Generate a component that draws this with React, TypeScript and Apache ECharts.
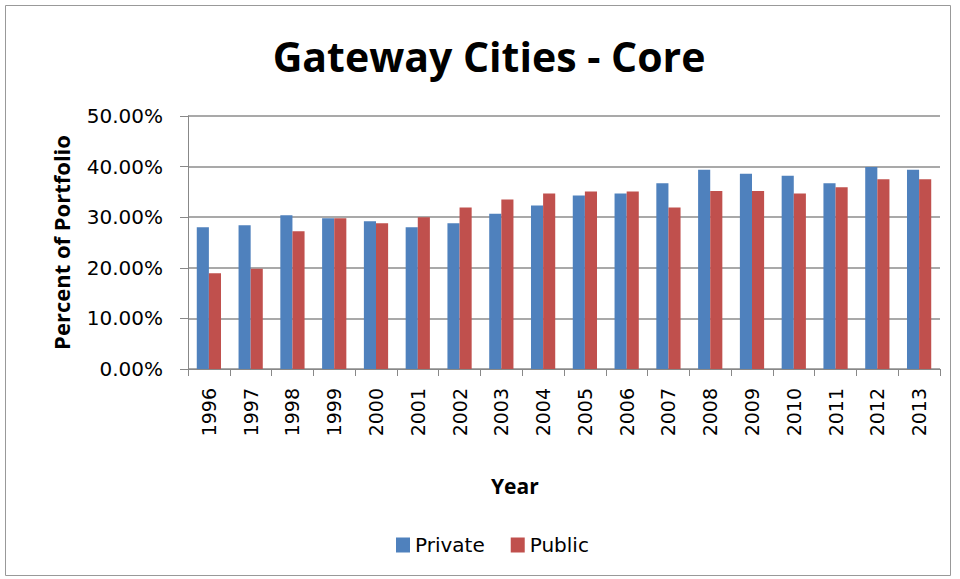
import React, { useEffect, useRef } from "react";
import * as echarts from "echarts";

const years = ["1996","1997","1998","1999","2000","2001","2002","2003","2004","2005","2006","2007","2008","2009","2010","2011","2012","2013"];
const privateVals = [28.0, 28.4, 30.4, 29.8, 29.2, 28.0, 28.8, 30.7, 32.3, 34.3, 34.7, 36.7, 39.4, 38.6, 38.2, 36.7, 39.9, 39.4];
const publicVals = [18.9, 19.8, 27.2, 29.8, 28.8, 30.0, 31.9, 33.5, 34.7, 35.1, 35.1, 31.9, 35.2, 35.2, 34.7, 35.9, 37.5, 37.5];

const BOLD = "'Open Sans', 'DejaVu Sans', sans-serif";
const REG = "'DejaVu Sans', sans-serif";

export default function App() {
  const ref = useRef<HTMLDivElement>(null);
  useEffect(() => {
    if (!ref.current) return;
    const chart = echarts.init(ref.current, null, { renderer: "svg" });
    chart.setOption({
      animation: false,
      backgroundColor: "#ffffff",
      title: {
        text: "Gateway Cities - Core",
        left: 484,
        top: 30,
        textAlign: "center",
        textStyle: { fontFamily: BOLD, fontSize: 41, fontWeight: "bold", color: "#000" },
      },
      graphic: [
        {
          type: "rect",
          shape: { x: 5.5, y: 5.5, width: 945, height: 570 },
          style: { fill: "none", stroke: "#999", lineWidth: 1 },
          silent: true,
        },
        {
          type: "text",
          left: 491,
          top: 475,
          style: { text: "Year", fontFamily: BOLD, fontSize: 21, fontWeight: "bold", fill: "#000" },
          silent: true,
        },
      ],
      legend: {
        data: ["Private", "Public"],
        top: 530,
        left: 391,
        itemWidth: 14,
        itemHeight: 15,
        itemGap: 26,
        icon: "rect",
        textStyle: { fontFamily: REG, fontSize: 20, color: "#000" },
      },
      grid: { left: 188, right: 20, top: 116, bottom: 210, containLabel: false },
      xAxis: {
        type: "category",
        data: years,
        axisLine: { lineStyle: { color: "#888", width: 1 } },
        axisTick: { show: true, alignWithLabel: false, length: 7, lineStyle: { color: "#888" } },
        axisLabel: { rotate: 90, fontFamily: REG, fontSize: 19, color: "#000", margin: 19, interval: 0 },
      },
      yAxis: {
        type: "value",
        min: 0,
        max: 50,
        interval: 10,
        name: "Percent of Portfolio",
        nameLocation: "middle",
        nameGap: 116,
        nameRotate: 90,
        nameTextStyle: { fontFamily: BOLD, fontSize: 22, fontWeight: "bold", color: "#000" },
        axisLine: { show: true, lineStyle: { color: "#888", width: 1 } },
        axisTick: { show: true, length: 8, lineStyle: { color: "#888" } },
        axisLabel: {
          fontFamily: REG,
          fontSize: 20,
          color: "#000",
          margin: 25,
          formatter: (v: number) => v.toFixed(2) + "%",
        },
        splitLine: { lineStyle: { color: "#8c8c8c", width: 1.5 } },
      },
      series: [
        {
          name: "Private",
          type: "bar",
          data: privateVals,
          barGap: "0%",
          barCategoryGap: "42%",
          itemStyle: { color: "#4f81bd" },
        },
        {
          name: "Public",
          type: "bar",
          data: publicVals,
          itemStyle: { color: "#c0504d" },
        },
      ],
    });
    return () => chart.dispose();
  }, []);
  return <div ref={ref} style={{ width: 960, height: 579, position: "absolute", left: 0, top: 0 }} />;
}
